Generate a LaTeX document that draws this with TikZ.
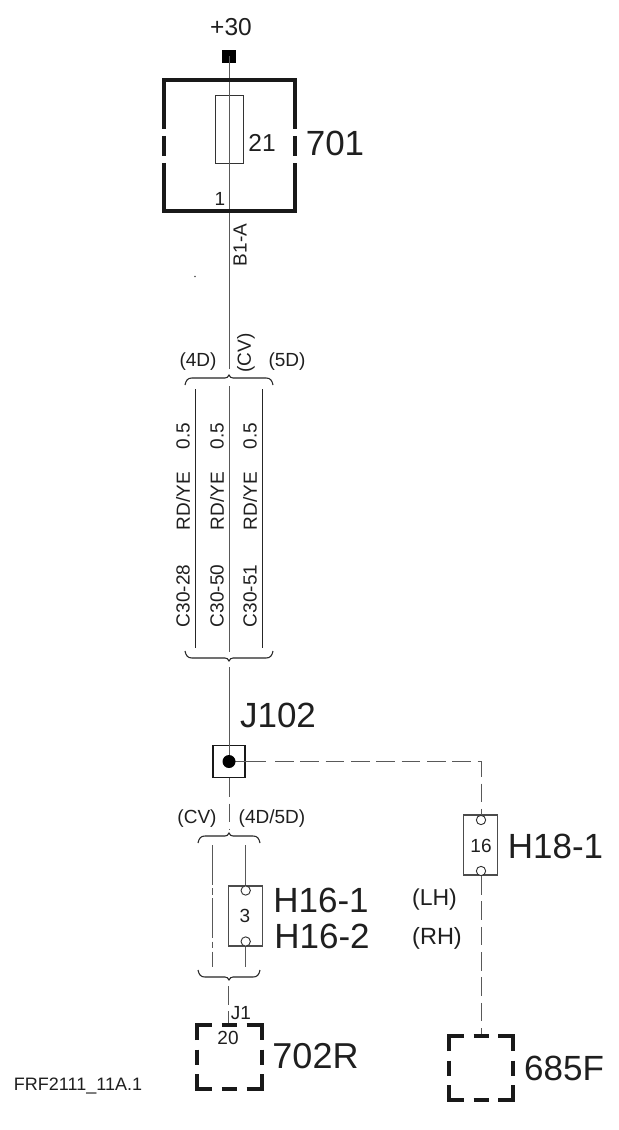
\documentclass[tikz,border=0pt]{standalone}
\usepackage{fontspec}
\setmainfont{Liberation Sans}
\newcommand{\fsize}[1]{\fontsize{\the\dimexpr#1pt*3/4\relax}{\the\dimexpr#1pt*9/10\relax}\selectfont}
\tikzset{
  lbl/.style={inner sep=0pt,outer sep=0pt,text=black!88},
  big/.style={lbl,font=\fsize{35}},
  mid/.style={lbl,font=\fsize{24.5}},
  sm/.style={lbl,font=\fsize{19}},
  wire/.style={draw=black!65,line width=0.65pt},
  dwire/.style={wire,dash pattern=on 14pt off 5pt},
  blk/.style={draw=black!85,line width=0.85pt},
  frame/.style={draw=black!90,line width=3pt},
  conn/.style={draw=black!70,line width=0.8pt,fill=white,minimum width=25.5pt,inner sep=0pt},
  pin/.style={circle,draw=black!80,line width=0.7pt,fill=white,minimum size=7pt,inner sep=0pt},
  brc/.style={draw=black!85,line width=0.8pt}
}
\newcommand{\topbrace}[4]{\draw[brc] (#1,#4+7) .. controls (#1+1,#4+2) and (#1+3,#4) .. (#1+7,#4) -- (#2-4,#4) .. controls (#2-2,#4) and (#2-1,#4-1) .. (#2,#4-3) .. controls (#2+1,#4-1) and (#2+2,#4) .. (#2+4,#4) -- (#3-7,#4) .. controls (#3-3,#4) and (#3-1,#4+2) .. (#3,#4+7);}
\newcommand{\botbrace}[4]{\draw[brc] (#1,#4-7) .. controls (#1+1,#4-2) and (#1+3,#4) .. (#1+7,#4) -- (#2-4,#4) .. controls (#2-2,#4) and (#2-1,#4+1) .. (#2,#4+3) .. controls (#2+1,#4+1) and (#2+2,#4) .. (#2+4,#4) -- (#3-7,#4) .. controls (#3-3,#4) and (#3-1,#4-2) .. (#3,#4-7);}
\newcommand{\brokenbox}[4]{%
 \draw[frame] (#1,#2+15) -- (#1,#2) -- (#1+15,#2);
 \draw[frame] (#3-15,#2) -- (#3,#2) -- (#3,#2+15);
 \draw[frame] (#1,#4-15) -- (#1,#4) -- (#1+15,#4);
 \draw[frame] (#3-15,#4) -- (#3,#4) -- (#3,#4-15);
 \draw[frame] ({(#1+#3)/2-7.5},#2) -- ({(#1+#3)/2+7.5},#2);
 \draw[frame] ({(#1+#3)/2-7.5},#4) -- ({(#1+#3)/2+7.5},#4);
 \draw[frame] (#1,{(#2+#4)/2-7.5}) -- (#1,{(#2+#4)/2+7.5});
 \draw[frame] (#3,{(#2+#4)/2-7.5}) -- (#3,{(#2+#4)/2+7.5});}
\begin{document}
\begin{tikzpicture}[x=0.75pt,y=-0.75pt]
\useasboundingbox (0,0) rectangle (618,1130);
\fill[white] (0,0) rectangle (618,1130);
% feed
\node[mid] (p30) at (231,27) {+30};
\node[fill=black,minimum size=10pt,inner sep=0pt] (batt) at (229,56.5) {};
\coordinate (b1end) at (229,369);
\draw[wire] (batt.center) -- (b1end);
% 701 frame
\draw[frame] (163.5,129) -- (163.5,80.5) -- (295,80.5) -- (295,129);
\draw[frame] (163.5,163) -- (163.5,211) -- (295,211) -- (295,163);
\draw[frame] (163.5,136) -- (163.5,156);
\draw[frame] (295,136) -- (295,156);
\node[draw=black!80,line width=0.7pt,minimum width=21pt,minimum height=51pt,inner sep=0pt] (fuse) at (229,129.3) {};
\draw[wire] (fuse.north) -- (fuse.south);
\node[mid] (n21) at (262,143) {21};
\node[lbl,font=\fsize{35}] (n701) at (335,143) {701};
\node[sm] (n1) at (220,199) {1};
\node[sm,rotate=90] (b1a) at (240,245) {B1-A};
\coordinate (speck) at (195,276.5);
\fill[black!70] (speck) circle (0.8);
% top brace
\topbrace{185}{229}{273}{378}
\node[sm] (l4d) at (198,362) {(4D)};
\node[sm,rotate=90] (lcv) at (246,353) {(CV)};
\node[sm] (l5d) at (287,362) {(5D)};
% three wires
\coordinate (w1t) at (195.7,389); \coordinate (w1b) at (195.7,648);
\coordinate (w2t) at (229,386); \coordinate (w2b) at (229,652);
\coordinate (w3t) at (262.3,389); \coordinate (w3b) at (262.3,648);
\draw[blk] (w1t) -- (w1b);
\draw[wire] (w2t) -- (w2b);
\draw[blk] (w3t) -- (w3b);
\node[sm,rotate=90] at (183,436) {0.5};
\node[sm,rotate=90] at (183,501) {RD/YE};
\node[sm,rotate=90] at (183,596) {C30-28};
\node[sm,rotate=90] at (217,436) {0.5};
\node[sm,rotate=90] at (217,501) {RD/YE};
\node[sm,rotate=90] at (217,596) {C30-50};
\node[sm,rotate=90] at (250,436) {0.5};
\node[sm,rotate=90] at (250,501) {RD/YE};
\node[sm,rotate=90] at (250,596) {C30-51};
\botbrace{185}{229}{273}{658}
% junction
\node[draw=black!90,line width=1.2pt,minimum size=24pt,inner sep=0pt] (j102) at (229,761.5) {};
\coordinate (jin) at (229,667);
\node[lbl,font=\fsize{35}] (jl) at (278,715) {J102};
\draw[wire] (jin) -- (j102.center);
\coordinate (sol) at (266,761.5);
\coordinate (dstart) at (275,761.5);
\coordinate (corner) at (481,761.5);
\node[conn,minimum height=45pt,minimum width=25.5pt] (h18) at (480.7,845) {};
\node[pin] (h18a) at (481,820) {};
\node[pin] (h18b) at (481,871) {};
\draw[wire] (j102.center) -- (sol);
\draw[dwire] (dstart) -- (corner) -- (h18a.north);
\node[sm] (n16) at (481,846) {16};
\node[big] (h18t) at (555.5,846) {H18-1};
\node[lbl,font=\fsize{23}] (lh) at (434.5,900) {(LH)};
\node[lbl,font=\fsize{23.5}] (rh) at (437,938) {(RH)};
\coordinate (t685) at (481,1035);
\draw[dwire] (h18b.south) -- (t685);
\fill[black] (j102.center) circle (6.5);
% 685F
\brokenbox{449}{1036}{513}{1100}
\node[lbl,font=\fsize{35}] (n685) at (564,1068) {685F};
% lower branch
\coordinate (bt) at (229,830);
\draw[dwire] (j102.south) -- (bt);
\topbrace{198}{229}{260}{836}
\node[sm] (lcv2) at (197,819) {(CV)};
\node[sm] (l45) at (272,819) {(4D/5D)};
\coordinate (cvt) at (212.3,845); \coordinate (cvb) at (212.3,967);
\draw[wire,dash pattern=on 30pt off 2.5pt on 5pt off 2.5pt] (cvt) -- (cvb);
\node[conn,minimum height=45pt] (h16) at (245.7,916) {};
\node[pin] (h16a) at (245.7,890.5) {};
\node[pin] (h16b) at (245.7,941.5) {};
\coordinate (dt) at (245.7,845); \coordinate (db) at (245.7,967);
\draw[wire] (dt) -- (h16a.north);
\draw[wire] (h16b.south) -- (db);
\node[sm] (n3) at (245,916) {3};
\node[big] (h161) at (321,900) {H16-1};
\node[big] (h162) at (322,936) {H16-2};
\botbrace{198}{229}{260}{977}
\coordinate (ct) at (228.5,986); \coordinate (cb) at (228.5,1026);
\draw[dwire] (ct) -- (cb);
\brokenbox{197}{1025}{261.5}{1089}
\node[sm] (j1) at (241,1013) {J1};
\node[sm] (n20) at (228,1038) {20};
\node[lbl,font=\fsize{36}] (n702) at (315.5,1056) {702R};
\node[lbl,font=\fsize{18}] (frf) at (78,1086) {FRF2111\_11A.1};
\end{tikzpicture}
\end{document}
